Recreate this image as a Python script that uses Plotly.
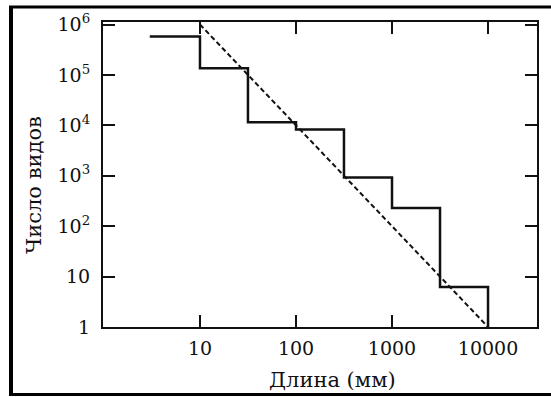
import plotly.graph_objects as go

# Histogram (step) data: bin edges (mm) and species counts
length_edges = [3, 10, 31.6, 100, 316, 1000, 3162, 10000, 10000]
species_counts = [5.8e5, 1.35e5, 1.15e4, 8.3e3, 920, 230, 6.2, 6.2, 1]

# Dashed trend line endpoints
trend_x = [10, 10000]
trend_y = [1e6, 1]

x_tickvals = [10, 100, 1000, 10000]
x_ticktext = ["10", "100", "1000", "10000"]
y_tickvals = [1, 10, 100, 1000, 10000, 100000, 1000000]
y_ticktext = ["1", "10", "10<sup>2</sup>", "10<sup>3</sup>", "10<sup>4</sup>",
              "10<sup>5</sup>", "10<sup>6</sup>"]

x_title = "Длина (мм)"
y_title = "Число видов"

FONT = "DejaVu Serif"
INK = "#111111"

fig = go.Figure()
fig.add_trace(go.Scatter(
    x=length_edges, y=species_counts, mode="lines",
    line=dict(shape="hv", color=INK, width=2.5), showlegend=False,
))
fig.add_trace(go.Scatter(
    x=trend_x, y=trend_y, mode="lines",
    line=dict(color=INK, width=2, dash="5px,3px"), showlegend=False,
))

W, H = 551, 397
L, R, T, B = 103, 14, 22, 70
pw, ph = W - L - R, H - T - B

axis_common = dict(
    type="log", showline=True, linecolor=INK, linewidth=2, mirror="allticks",
    ticks="inside", ticklen=12, tickwidth=2, tickcolor=INK,
    showgrid=False, zeroline=False,
    tickfont=dict(family=FONT, size=19, color=INK),
)

fig.update_layout(
    width=W, height=H,
    margin=dict(l=L, r=R, t=T, b=B),
    paper_bgcolor="white", plot_bgcolor="white",
    xaxis=dict(range=[-0.01, 4.51], tickvals=x_tickvals, ticktext=x_ticktext,
               ticklabelstandoff=3, **axis_common),
    yaxis=dict(range=[0, 6.05], tickvals=y_tickvals, ticktext=y_ticktext,
               ticklabelstandoff=7, **axis_common),
)

def px_x(px):
    return (px - L) / pw

def px_y(py):
    return (H - B - py) / ph

fig.add_annotation(text=x_title, x=px_x(332), y=px_y(380), xref="paper", yref="paper",
                   showarrow=False, xanchor="center", yanchor="middle",
                   font=dict(family=FONT, size=21, color=INK))
fig.add_annotation(text=y_title, x=px_x(34), y=px_y(185), xref="paper", yref="paper",
                   showarrow=False, xanchor="center", yanchor="middle", textangle=-90,
                   font=dict(family=FONT, size=21, color=INK))

# outer frame
fig.add_shape(type="line", xref="paper", yref="paper", x0=px_x(11), x1=px_x(11),
              y0=px_y(6), y1=px_y(395), line=dict(color="black", width=4))
fig.add_shape(type="line", xref="paper", yref="paper", x0=px_x(9), x1=px_x(560),
              y0=px_y(7), y1=px_y(7), line=dict(color="black", width=3))
fig.add_shape(type="line", xref="paper", yref="paper", x0=px_x(9), x1=px_x(560),
              y0=px_y(394.5), y1=px_y(394.5), line=dict(color="black", width=3))

fig.write_html(
    "out.html",
    config={"displayModeBar": False},
    post_script="document.body.style.margin='0';document.body.style.overflow='hidden';",
)
